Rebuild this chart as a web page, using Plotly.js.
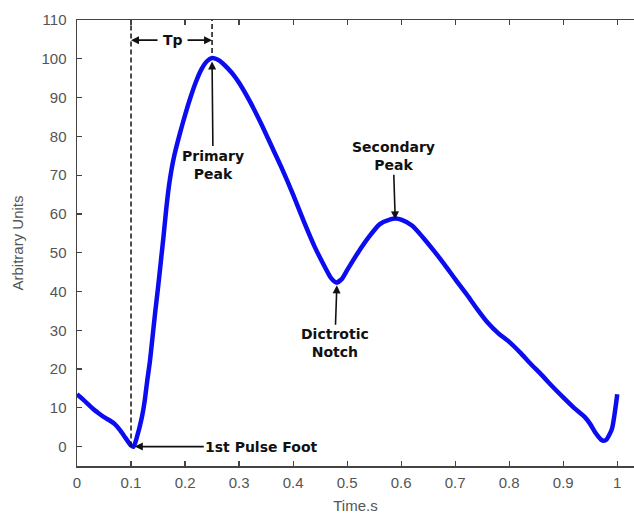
<!DOCTYPE html>
<html>
<head>
<meta charset="utf-8">
<script src="https://cdn.plot.ly/plotly-3.0.1.min.js"></script>
<style>html,body{margin:0;padding:0;background:#fff;}#chart{width:634px;height:514px;}</style>
</head>
<body>
<div id="chart"></div>
<script>
// Pulse waveform (Time, s) vs amplitude (Arbitrary Units)
const timeS = [0,0.01,0.02,0.03,0.04,0.05,0.06,0.07,0.08,0.09,0.1,0.105,0.11,0.12,0.125,0.13,0.135,0.14,0.145,0.15,0.155,0.16,0.165,0.17,0.175,0.18,0.19,0.2,0.21,0.22,0.23,0.24,0.25,0.26,0.27,0.28,0.29,0.3,0.32,0.34,0.36,0.38,0.4,0.42,0.44,0.46,0.47,0.48,0.49,0.5,0.52,0.54,0.56,0.58,0.59,0.6,0.62,0.64,0.66,0.68,0.7,0.72,0.74,0.76,0.78,0.8,0.82,0.84,0.86,0.88,0.9,0.92,0.94,0.95,0.96,0.97,0.975,0.98,0.99,1.0];
const amplitude = [13.5,12.3,11,9.7,8.6,7.6,6.8,5.8,4.2,2.2,0.3,0,2,7.5,11.5,17,22,28.5,35,41,47.5,54,61,67,71.5,75,80.5,85.5,90,94,97.2,99.3,100.2,99.8,98.8,97.4,95.8,93.8,89,83.5,77.5,71.5,65,58,51.5,46,43.5,42.3,43.2,45.5,50,54,57.3,58.6,58.8,58.5,57,54,50.6,47,43.2,39.5,35.6,32,29.2,27,24.3,21.3,18.5,15.5,12.7,10,7.6,5.8,3.5,1.8,1.5,1.8,4.5,13.5];

// Landmarks: [pulse foot, primary peak, dicrotic notch, secondary peak]
const landmarkNames = ['1st Pulse Foot', 'Primary<br>Peak', 'Dictrotic<br>Notch', 'Secondary<br>Peak'];
const landmarkTimes = [0.107, 0.25, 0.481, 0.589];
const landmarkValues = [0, 99.3, 41.6, 58.6];
const tpLabel = 'Tp';
const tpLevel = 104.8;
const tpTopLevel = 110;
const peakLineBottom = 101.5;

const xTickVals = [0,0.1,0.2,0.3,0.4,0.5,0.6,0.7,0.8,0.9,1];
const yTickVals = [0,10,20,30,40,50,60,70,80,90,100,110];

const footT = 0.1, peakT = landmarkTimes[1];

const traces = [
  { x: timeS, y: amplitude, type: 'scatter', mode: 'lines',
    line: { color: '#0c0cf0', width: 4.5, shape: 'spline', smoothing: 0.6 }, hoverinfo: 'skip' },
  { x: [footT, footT], y: [0, tpTopLevel], type: 'scatter', mode: 'lines',
    line: { color: '#111', width: 1.5, dash: '5px,3px' } },
  { x: [peakT, peakT], y: [peakLineBottom, tpTopLevel], type: 'scatter', mode: 'lines',
    line: { color: '#111', width: 1.5, dash: '5px,3px' } }
];

const annFont = { family: 'DejaVu Sans', size: 14, color: '#111', weight: 'bold' };
const arrowCommon = { showarrow: true, arrowhead: 2, arrowsize: 1, arrowwidth: 1.6, arrowcolor: '#111', xref: 'x', yref: 'y', font: annFont };

const offsets = [[127, 0], [1, 103], [-2, 58], [-2, -63]];
const annotations = landmarkNames.map((n, i) => Object.assign({}, arrowCommon, {
  x: landmarkTimes[i], y: landmarkValues[i], text: '<b>' + n + '</b>',
  ax: offsets[i][0], ay: offsets[i][1], standoff: 0
}));
annotations.push({ x: (footT + peakT) / 2 + 0.003, y: tpLevel, xref: 'x', yref: 'y', text: '<b>' + tpLabel + '</b>',
  showarrow: false, font: annFont });
annotations.push(Object.assign({}, arrowCommon, { x: footT, y: tpLevel, text: '', ax: 28, ay: 0 }));
annotations.push(Object.assign({}, arrowCommon, { x: peakT, y: tpLevel, text: '', ax: -26, ay: 0 }));

const tickFont = { family: 'Liberation Sans', size: 15, color: '#555' };

const layout = {
  width: 634, height: 514,
  margin: { l: 77, r: 0, t: 20, b: 48 },
  paper_bgcolor: '#fff', plot_bgcolor: '#fff',
  showlegend: false,
  xaxis: {
    range: [0, 1.031], tickvals: xTickVals, ticktext: xTickVals.map(String),
    ticks: 'inside', ticklen: 5, tickwidth: 1.2, tickcolor: '#444',
    showline: true, linecolor: '#444', linewidth: 1.5, mirror: 'ticks',
    showgrid: false, zeroline: false, tickfont: tickFont, ticklabelstandoff: 2,
    title: { text: 'Time.s', font: { family: 'Liberation Sans', size: 15, color: '#555' }, standoff: 12 }
  },
  yaxis: {
    range: [-5, 110], tickvals: yTickVals,
    ticks: 'inside', ticklen: 5, tickwidth: 1.2, tickcolor: '#444',
    showline: true, linecolor: '#444', linewidth: 1.5,
    showgrid: false, zeroline: false, tickfont: tickFont, ticklabelstandoff: 6,
    title: { text: 'Arbitrary Units', font: { family: 'Liberation Sans', size: 15, color: '#555' }, standoff: 14 }
  },
  annotations: annotations
};

Plotly.newPlot('chart', traces, layout, { staticPlot: true, displayModeBar: false });
</script>
</body>
</html>
